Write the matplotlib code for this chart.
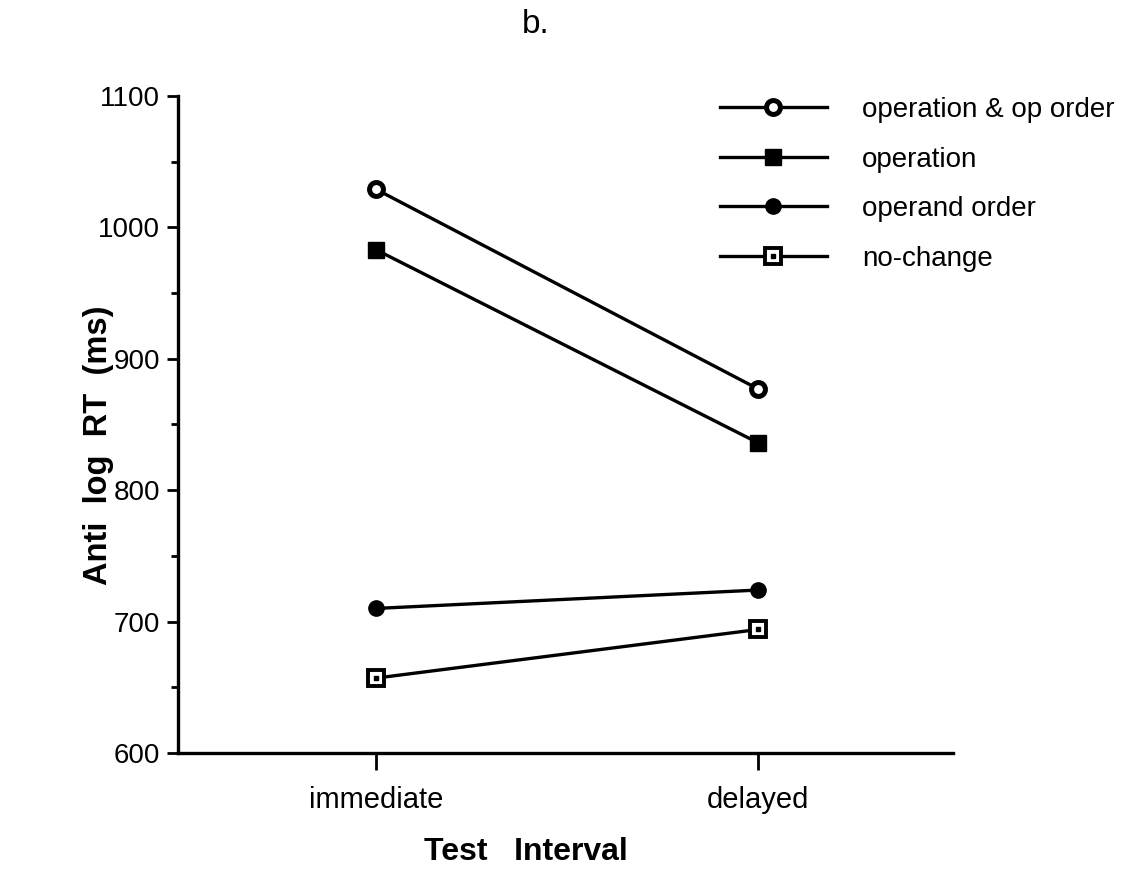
import matplotlib
matplotlib.use("Agg")
import matplotlib.pyplot as plt
from matplotlib.lines import Line2D
from matplotlib.legend_handler import HandlerTuple
from matplotlib.ticker import MultipleLocator

plt.rcParams['font.family'] = ['Liberation Sans', 'DejaVu Sans']

categories = ["immediate", "delayed"]
series_names = ["operation & op order", "operation", "operand order", "no-change"]
op_and_order = [1029, 877]
operation = [983, 836]
operand_order = [710, 724]
no_change = [657, 694]
y_ticks = [600, 700, 800, 900, 1000, 1100]

fig = plt.figure(figsize=(11.24, 8.72), dpi=100)
ax = fig.add_axes([0.1584, 0.1365, 0.848 - 0.1584, 0.8899 - 0.1365])

x = list(range(len(categories)))
lw = 2.4

ax.plot(x, op_and_order, color='black', lw=lw, marker='o', ms=10,
        mfc='white', mec='black', mew=3.6)
ax.plot(x, operation, color='black', lw=lw, marker='s', ms=12,
        mfc='black', mec='black')
ax.plot(x, operand_order, color='black', lw=lw, marker='o', ms=11,
        mfc='black', mec='black')
ax.plot(x, no_change, color='black', lw=lw, marker='s', ms=11,
        mfc='white', mec='black', mew=2.8)
ax.plot(x, no_change, ls='none', marker='s', ms=3, mfc='black', mec='black')

ax.set_xlim(-0.518, 1.51)
ax.set_ylim(600, 1100)
ax.set_xticks(x)
ax.set_xticklabels(categories, fontsize=21)
ax.set_yticks(y_ticks)
ax.set_yticklabels([str(v) for v in y_ticks], fontsize=20)
ax.yaxis.set_minor_locator(MultipleLocator(50))

for s in ['top', 'right']:
    ax.spines[s].set_visible(False)
for s in ['left', 'bottom']:
    ax.spines[s].set_linewidth(2.4)

ax.tick_params(axis='y', which='major', direction='out', length=8, width=2, pad=5)
ax.tick_params(axis='y', which='minor', direction='out', length=5, width=2)
ax.tick_params(axis='x', which='major', direction='out', length=12, width=2, pad=12)

ax.set_xlabel("Test   Interval", fontsize=23, fontweight='bold', va='center')
ax.xaxis.set_label_coords(0.449, -0.151)
ax.set_ylabel("Anti  log  RT  (ms)", fontsize=23.5, fontweight='bold')
ax.yaxis.set_label_coords(-0.083, 0.469)
fig.text(0.464, 0.99, "b.", fontsize=24, ha='left', va='top')

# legend with hand-built handles so the no-change marker keeps its centre dot
def line_handle(**kw):
    return Line2D([0], [0], color='black', lw=lw, **kw)

handles = [
    line_handle(marker='o', ms=10, mfc='white', mec='black', mew=3.6),
    line_handle(marker='s', ms=12, mfc='black', mec='black'),
    line_handle(marker='o', ms=11, mfc='black', mec='black'),
    (line_handle(marker='s', ms=11, mfc='white', mec='black', mew=2.8),
     Line2D([0], [0], ls='none', marker='s', ms=3, mfc='black', mec='black')),
]
fig.legend(handles, series_names, loc='upper left',
           bbox_to_anchor=(720 / 1124, 1 - 97 / 872),
           frameon=False, fontsize=20, handlelength=3.85,
           handletextpad=1.26, labelspacing=0.85, borderpad=0,
           borderaxespad=0,
           handler_map={tuple: HandlerTuple(ndivide=1)})

fig.savefig("out.png", dpi=100)
